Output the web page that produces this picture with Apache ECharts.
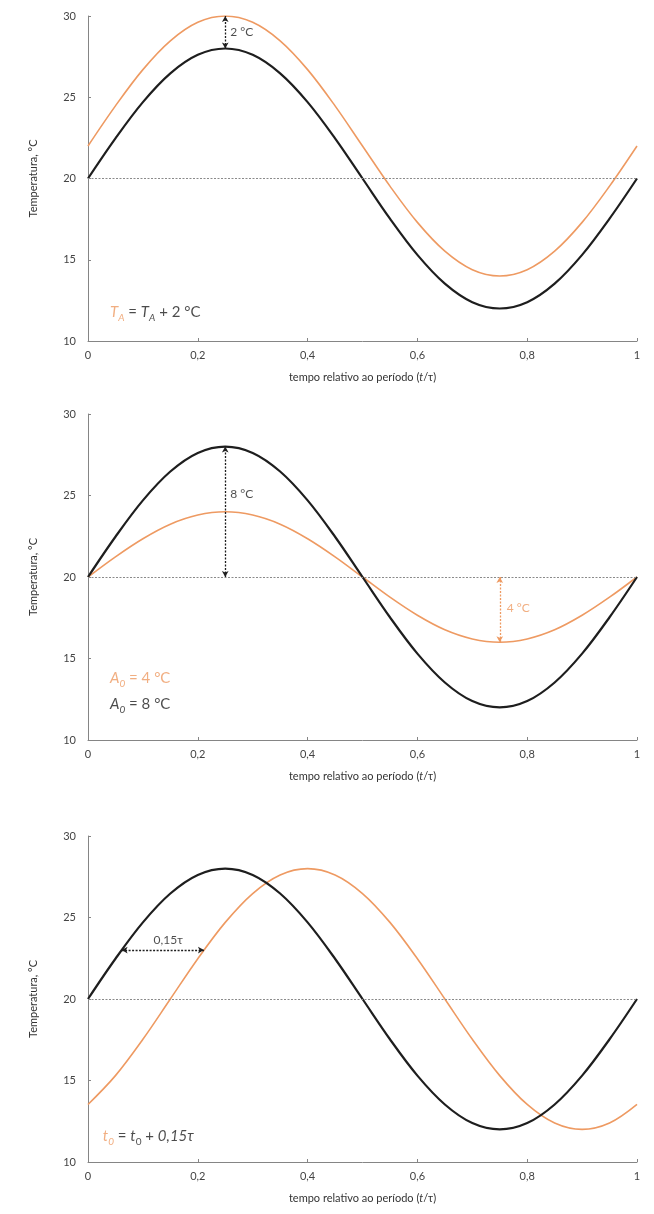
<!DOCTYPE html>
<html>
<head>
<meta charset="utf-8">
<script src="https://cdn.jsdelivr.net/npm/echarts@6/dist/echarts.min.js"></script>
<style>
  html, body { margin: 0; padding: 0; background: #fff; }
  #chart { width: 654px; height: 1214px; }
</style>
</head>
<body>
<div id="chart"></div>
<script>
// relative time t/τ
const tValues = [0, 0.05, 0.1, 0.15, 0.2, 0.25, 0.3, 0.35, 0.4, 0.45, 0.5,
                 0.55, 0.6, 0.65, 0.7, 0.75, 0.8, 0.85, 0.9, 0.95, 1];

// reference wave: mean 20 °C, amplitude 8 °C
const baseTemp = [20, 22.47, 24.70, 26.47, 27.61, 28, 27.61, 26.47, 24.70, 22.47, 20,
                  17.53, 15.30, 13.53, 12.39, 12, 12.39, 13.53, 15.30, 17.53, 20];
// mean raised by 2 °C
const meanShiftTemp = [22, 24.47, 26.70, 28.47, 29.61, 30, 29.61, 28.47, 26.70, 24.47, 22,
                       19.53, 17.30, 15.53, 14.39, 14, 14.39, 15.53, 17.30, 19.53, 22];
// amplitude 4 °C
const ampTemp = [20, 21.24, 22.35, 23.24, 23.80, 24, 23.80, 23.24, 22.35, 21.24, 20,
                 18.76, 17.65, 16.76, 16.20, 16, 16.20, 16.76, 17.65, 18.76, 20];
// phase delayed by 0.15τ
const phaseTemp = [13.53, 15.30, 17.53, 20, 22.47, 24.70, 26.47, 27.61, 28, 27.61, 26.47,
                   24.70, 22.47, 20, 17.53, 15.30, 13.53, 12.39, 12, 12.39, 13.53];

const xTicks = [0, 0.2, 0.4, 0.6, 0.8, 1];
const yTicks = [10, 15, 20, 25, 30];
const meanLevel = 20;

// annotation arrows: [x1, y1, x2, y2]
const arrowMean = [0.25, 28, 0.25, 30];
const arrowAmpBlack = [0.25, 20, 0.25, 28];
const arrowAmpOrange = [0.75, 20, 0.75, 16];
const arrowPhase = [0.0612, 23, 0.2112, 23];

const ORANGE = '#EE9A62';
const BLACK = '#1e1e1e';
const FONT = 'Lato';

const grids = [
  { left: 88, right: 17, top: 16, height: 325 },
  { left: 88, right: 17, top: 414, height: 326 },
  { left: 88, right: 17, top: 836, height: 326 }
];

const pairs = ys => tValues.map((t, i) => [t, ys[i]]);

function xAxisFor(i) {
  return {
    gridIndex: i, type: 'value', min: 0, max: 1, interval: 0.2,
    name: '{n|tempo relativo ao período (}{i|t}{n|/τ)}',
    nameLocation: 'middle', nameGap: 31,
    nameTextStyle: {
      rich: {
        n: { fontFamily: FONT, fontSize: 11, color: '#333' },
        i: { fontFamily: FONT, fontSize: 11, color: '#333', fontStyle: 'italic' }
      }
    },
    axisLine: { show: true, lineStyle: { color: '#858585', width: 1 } },
    axisTick: { show: true, inside: true, length: 3, lineStyle: { color: '#858585' } },
    axisLabel: {
      fontFamily: FONT, fontSize: 11, color: '#444', margin: 9,
      formatter: v => xTicks.includes(+v.toFixed(2)) ? String(+v.toFixed(2)).replace('.', ',') : ''
    },
    splitLine: { show: false }
  };
}

function yAxisFor(i) {
  return {
    gridIndex: i, type: 'value', min: 10, max: 30, interval: 5,
    name: 'Temperatura, °C', nameLocation: 'middle', nameGap: 49,
    nameTextStyle: { fontFamily: FONT, fontSize: 11, color: '#333' },
    axisLine: { show: true, lineStyle: { color: '#858585', width: 1 } },
    axisTick: { show: true, inside: true, length: 3, lineStyle: { color: '#858585' } },
    axisLabel: {
      fontFamily: FONT, fontSize: 11, color: '#444', margin: 12,
      formatter: v => yTicks.includes(v) ? String(v) : ''
    },
    splitLine: { show: false }
  };
}

function curve(i, ys, color, width, z) {
  return {
    type: 'line', xAxisIndex: i, yAxisIndex: i, data: pairs(ys),
    smooth: 0.35, symbol: 'none', z: z,
    lineStyle: { color: color, width: width }
  };
}

function meanLine(i) {
  return {
    type: 'line', xAxisIndex: i, yAxisIndex: i, data: [], silent: true,
    markLine: {
      silent: true, symbol: 'none', label: { show: false },
      lineStyle: { color: '#8a8a8a', type: [2, 1.5], width: 1 },
      data: [[{ coord: [0, meanLevel] }, { coord: [1, meanLevel] }]]
    }
  };
}

function arrow(i, a, color) {
  return {
    type: 'line', xAxisIndex: i, yAxisIndex: i, data: [], silent: true, z: 5,
    markLine: {
      silent: true, symbol: ['arrow', 'arrow'], symbolSize: [5, 6],
      label: { show: false },
      lineStyle: { color: color, type: [2, 1.5], width: 1.3 },
      data: [[{ coord: [a[0], a[1]] }, { coord: [a[2], a[3]] }]]
    }
  };
}

// main glyphs hang from the line top; subscripts are pushed down by top padding
const MAIN = { fontFamily: FONT, fontSize: 15, verticalAlign: 'top' };
const SUB = { fontFamily: FONT, fontSize: 10, verticalAlign: 'top', padding: [8, 0, 0, 0] };
const rich = {
  o: Object.assign({}, MAIN, { color: ORANGE, fontStyle: 'italic' }),
  ot: Object.assign({}, MAIN, { color: ORANGE }),
  os: Object.assign({}, SUB, { color: ORANGE, fontStyle: 'italic' }),
  k: Object.assign({}, MAIN, { color: BLACK }),
  ki: Object.assign({}, MAIN, { color: BLACK, fontStyle: 'italic' }),
  ks: Object.assign({}, SUB, { color: BLACK }),
  ksi: Object.assign({}, SUB, { color: BLACK, fontStyle: 'italic' }),
  s: { fontFamily: FONT, fontSize: 12, color: BLACK },
  so: { fontFamily: FONT, fontSize: 12, color: ORANGE }
};

function note(i, x, y, text, position, distance) {
  return {
    type: 'scatter', xAxisIndex: i, yAxisIndex: i, silent: true, z: 6,
    symbolSize: 0, data: [[x, y]],
    label: {
      show: true, position: position || 'right', distance: distance == null ? 4 : distance,
      formatter: text, rich: rich
    }
  };
}

const option = {
  animation: false,
  backgroundColor: '#fff',
  grid: grids,
  xAxis: [xAxisFor(0), xAxisFor(1), xAxisFor(2)],
  yAxis: [yAxisFor(0), yAxisFor(1), yAxisFor(2)],
  series: [
    // panel 1: mean shift
    meanLine(0),
    curve(0, meanShiftTemp, ORANGE, 1.6, 3),
    curve(0, baseTemp, BLACK, 2.2, 4),
    arrow(0, arrowMean, BLACK),
    note(0, 0.25, 29, '{s|2 °C}', 'right', 5),
    note(0, 0.04, 11.7, '{o|T}{os|A}{k| = }{ki|T}{ksi|A}{k| + 2 °C}', 'right', 0),

    // panel 2: amplitude
    meanLine(1),
    curve(1, ampTemp, ORANGE, 1.6, 3),
    curve(1, baseTemp, BLACK, 2.2, 4),
    arrow(1, arrowAmpBlack, BLACK),
    arrow(1, arrowAmpOrange, ORANGE),
    note(1, 0.25, 25.1, '{s|8 °C}', 'right', 5),
    note(1, 0.75, 18.1, '{so|4 °C}', 'right', 7),
    note(1, 0.04, 13.7, '{o|A}{os|0}{ot| = 4 °C}', 'right', 0),
    note(1, 0.04, 12.1, '{ki|A}{ksi|0}{k| = 8 °C}', 'right', 0),

    // panel 3: phase
    meanLine(2),
    curve(2, phaseTemp, ORANGE, 1.6, 3),
    curve(2, baseTemp, BLACK, 2.2, 4),
    arrow(2, arrowPhase, BLACK),
    note(2, 0.146, 23.6, '{s|0,15τ}', 'inside', 0),
    note(2, 0.027, 11.5, '{o|t}{os|0}{k| = }{ki|t}{ks|0}{k| + }{ki|0,15τ}', 'right', 0)
  ]
};

const chart = echarts.init(document.getElementById('chart'), null, { renderer: 'canvas' });
chart.setOption(option);
</script>
</body>
</html>
